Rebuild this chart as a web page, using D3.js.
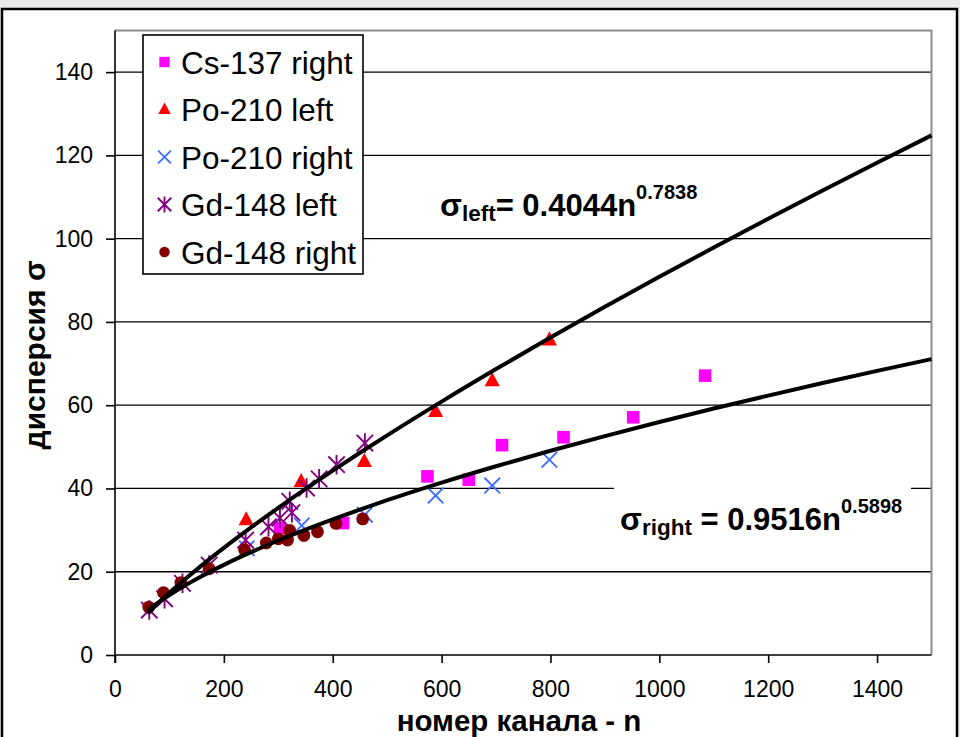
<!DOCTYPE html>
<html>
<head>
<meta charset="utf-8">
<script src="https://cdn.jsdelivr.net/npm/d3@7"></script>
<style>
  html, body { margin: 0; padding: 0; background: #ebebeb; }
  svg { display: block; }
  text { font-family: "Liberation Sans", Arial, sans-serif; }
</style>
</head>
<body>
<svg id="chart" width="960" height="737"></svg>
<script>
// ---------- data ----------
const seriesNames = ["Cs-137 right", "Po-210 left", "Po-210 right", "Gd-148 left", "Gd-148 right"];
const cs137Right = [[303, 30.5], [419, 31.7], [574, 42.9], [650, 42.1], [711, 50.4], [824, 52.3], [952, 57.1], [1084, 67.1]];
const po210Left = [[241, 32.5], [342, 41.7], [458, 46.5], [589, 58.5], [693, 65.9], [798, 75.7]];
const po210Right = [[242, 25.6], [343, 31.1], [459, 33.7], [589, 38.3], [693, 40.7], [798, 46.9]];
const gd148Left = [[63, 10.8], [91, 13.5], [124, 17.2], [173, 21.6], [240, 27.6], [282, 30.8], [303, 32.9], [325, 34.2], [321, 36.9], [352, 40.1], [375, 42.3], [407, 45.7], [459, 50.9]];
const gd148Right = [[62, 11.5], [89, 15.0], [121, 17.4], [173, 20.7], [238, 25.3], [278, 26.9], [300, 27.9], [317, 27.6], [321, 29.9], [347, 28.7], [372, 29.6], [406, 31.6], [455, 32.7]];
// trendlines (power fits printed on the chart): sigma = a * n^b
const fitLeft = [0.4044, 0.7838];
const fitRight = [0.9516, 0.5898];
const fitN = [60, 80, 100, 130, 160, 200, 250, 300, 350, 400, 450, 500, 600, 700, 800, 900, 1000, 1100, 1200, 1300, 1400, 1500];
const xTicks = [0, 200, 400, 600, 800, 1000, 1200, 1400];
const yTicks = [0, 20, 40, 60, 80, 100, 120, 140];

// ---------- layout ----------
const svg = d3.select("#chart");
const L = 115, R = 931.5, T = 30.5, B = 655;
const x = d3.scaleLinear().domain([0, 1500]).range([L, R]);
const y = d3.scaleLinear().domain([0, 150]).range([B, T]);

// outer chart frame
svg.append("rect").attr("x", 2).attr("y", 9).attr("width", 955).attr("height", 745)
  .attr("fill", "#fff").attr("stroke", "#000").attr("stroke-width", 2.5);

// gridlines
svg.append("g").selectAll("line").data(yTicks.filter(d => d > 0)).join("line")
  .attr("x1", L).attr("x2", R).attr("y1", d => y(d)).attr("y2", d => y(d))
  .attr("stroke", "#000").attr("stroke-width", 1.3);

// plot-area border (top/right grey)
svg.append("path").attr("d", `M${L},${T}H${R}V${B}`).attr("fill", "none")
  .attr("stroke", "#8c8c8c").attr("stroke-width", 2);

// axes
const yAxis = d3.axisLeft(y).tickValues(yTicks).tickFormat(d => d).tickSize(9).tickSizeOuter(0).tickPadding(13);
const xAxis = d3.axisBottom(x).tickValues(xTicks).tickFormat(d => d).tickSize(8).tickSizeOuter(0).tickPadding(18);
const gy = svg.append("g").attr("transform", `translate(${L},0)`).call(yAxis);
const gx = svg.append("g").attr("transform", `translate(0,${B})`).call(xAxis);
[gx, gy].forEach(g => {
  g.select(".domain").attr("stroke", "#000").attr("stroke-width", 1.6);
  g.selectAll(".tick line").attr("stroke", "#000").attr("stroke-width", 1.6);
  g.selectAll(".tick text").attr("fill", "#000").style("font-size", "23px")
    .style("font-family", '"Liberation Sans", Arial, sans-serif');
});
gx.select(".domain").attr("d", `M${L},0H${R}`);
gy.select(".domain").attr("d", `M0,${T}V${B + 8}`);

// white box behind the right-hand equation
svg.append("rect").attr("x", 614).attr("y", 478).attr("width", 297).attr("height", 66).attr("fill", "#fff");

// ---------- markers ----------
function marker(g, kind, s) {
  if (kind === 0) {
    g.append("rect").attr("x", -s * 6.3).attr("y", -s * 6.3).attr("width", s * 12.6).attr("height", s * 12.6).attr("fill", "#ff00ff");
  } else if (kind === 1) {
    g.append("path").attr("d", `M0,${-8.5 * s}L${7.6 * s},${5.6 * s}L${-7.6 * s},${5.6 * s}Z`).attr("fill", "#ff0000");
  } else if (kind === 2) {
    const a = 7.8 * s;
    g.append("path").attr("d", `M${-a},${-a}L${a},${a}M${-a},${a}L${a},${-a}`).attr("stroke", "#3d6dff").attr("stroke-width", 1.8).attr("fill", "none");
  } else if (kind === 3) {
    const a = 8.2 * s, v = 9.8 * s;
    g.append("path").attr("d", `M${-a},${-a}L${a},${a}M${-a},${a}L${a},${-a}M0,${-v}V${v}`).attr("stroke", "#800080").attr("stroke-width", 1.9).attr("fill", "none");
  } else {
    g.append("circle").attr("r", 6.4 * s).attr("fill", "#800000");
  }
}
const allSeries = [cs137Right, po210Left, po210Right, gd148Left, gd148Right];
allSeries.forEach((data, k) => {
  const g = svg.append("g");
  data.forEach(d => {
    const m = g.append("g").attr("transform", `translate(${x(d[0])},${y(d[1])})`);
    marker(m, k, 1);
  });
});

// ---------- trendlines ----------
const line = d3.line().x(d => x(d[0])).y(d => y(d[1])).curve(d3.curveMonotoneX);
[fitLeft, fitRight].forEach(f => {
  svg.append("path").datum(fitN.map(n => [n, f[0] * Math.pow(n, f[1])]))
    .attr("d", line).attr("fill", "none").attr("stroke", "#000").attr("stroke-width", 4);
});

// ---------- equations ----------
function equation(x0, yb, sub, subGap, coef, pow) {
  const t = svg.append("text").attr("x", x0).attr("y", yb).attr("font-weight", "bold").attr("fill", "#000");
  t.append("tspan").style("font-size", "32px").text("σ");
  t.append("tspan").style("font-size", "22.5px").attr("dy", 5).text(sub);
  t.append("tspan").style("font-size", "31px").attr("dy", -5).text(subGap + "= " + coef + "n");
  t.append("tspan").style("font-size", "20px").attr("dy", -17).text(pow);
}
equation(440, 216, "left", "", "0.4044", "0.7838");
equation(620, 530, "right", " ", "0.9516", "0.5898");

// ---------- legend ----------
const lg = svg.append("g");
lg.append("rect").attr("x", 143).attr("y", 35).attr("width", 220).attr("height", 239)
  .attr("fill", "#fff").attr("stroke", "#000").attr("stroke-width", 1.6);
seriesNames.forEach((name, i) => {
  const cy = 62 + i * 47.5;
  const m = lg.append("g").attr("transform", `translate(164.5,${cy})`);
  marker(m, i, 0.82);
  lg.append("text").attr("x", 181).attr("y", cy + 11.5).style("font-size", "31.5px").attr("fill", "#000").text(name);
});

// ---------- axis titles ----------
svg.append("text").attr("x", 519).attr("y", 731).attr("text-anchor", "middle")
  .attr("font-weight", "bold").style("font-size", "29.5px").text("номер канала - n");
svg.append("text").attr("transform", "translate(45,355) rotate(-90)").attr("text-anchor", "middle")
  .attr("font-weight", "bold").style("font-size", "30px").text("дисперсия σ");
</script>
</body>
</html>
